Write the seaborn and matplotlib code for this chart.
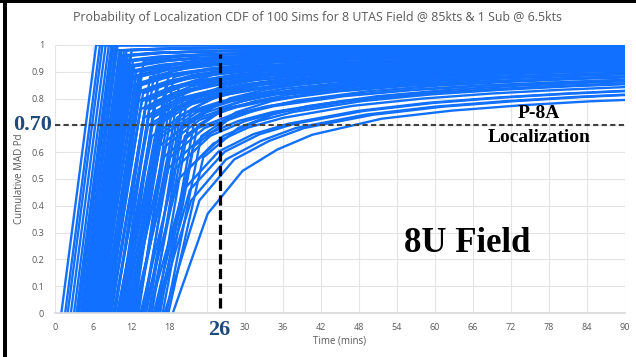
import numpy as np
import pandas as pd
import seaborn as sns
import matplotlib.pyplot as plt
from matplotlib import transforms
from matplotlib.patches import Rectangle

# Sample offsets (minutes after a sim's first detection opportunity)
offsets = [0, 5.5, 11, 16.5, 22, 33, 44, 55, 66, 77, 88, 99]

# Cumulative Pd profiles sampled at the offsets above
profiles = {
    "p00": [0, 1.00, 1.000, 1.000, 1.000, 1.000, 1.000, 1.000, 1.000, 1.000, 1.000, 1.000],
    "p02": [0, 0.98, 0.985, 0.988, 0.989, 0.991, 0.992, 0.993, 0.993, 0.994, 0.994, 0.994],
    "p04": [0, 0.96, 0.971, 0.975, 0.978, 0.982, 0.984, 0.985, 0.987, 0.987, 0.988, 0.989],
    "p06": [0, 0.94, 0.956, 0.963, 0.967, 0.973, 0.976, 0.978, 0.980, 0.981, 0.982, 0.983],
    "p08": [0, 0.92, 0.941, 0.951, 0.956, 0.964, 0.968, 0.971, 0.973, 0.975, 0.976, 0.978],
    "p10": [0, 0.90, 0.926, 0.938, 0.946, 0.955, 0.960, 0.964, 0.967, 0.969, 0.971, 0.972],
    "p12": [0, 0.88, 0.912, 0.926, 0.935, 0.945, 0.952, 0.956, 0.960, 0.962, 0.965, 0.966],
    "p15": [0, 0.85, 0.889, 0.907, 0.918, 0.932, 0.940, 0.946, 0.950, 0.953, 0.956, 0.958],
    "p18": [0, 0.82, 0.867, 0.889, 0.902, 0.918, 0.928, 0.935, 0.940, 0.944, 0.947, 0.950],
    "p21": [0, 0.79, 0.845, 0.870, 0.886, 0.904, 0.916, 0.924, 0.930, 0.934, 0.938, 0.941],
    "p24": [0, 0.76, 0.823, 0.852, 0.869, 0.891, 0.904, 0.913, 0.920, 0.925, 0.929, 0.933],
    "p27": [0, 0.73, 0.801, 0.833, 0.853, 0.877, 0.892, 0.902, 0.910, 0.915, 0.920, 0.924],
    "p30": [0, 0.70, 0.779, 0.815, 0.837, 0.864, 0.880, 0.891, 0.900, 0.906, 0.912, 0.916],
    "p34": [0, 0.66, 0.749, 0.790, 0.815, 0.845, 0.864, 0.877, 0.886, 0.894, 0.900, 0.905],
    "p38": [0, 0.62, 0.720, 0.766, 0.793, 0.827, 0.848, 0.862, 0.873, 0.881, 0.888, 0.894],
    "p42": [0, 0.58, 0.690, 0.741, 0.772, 0.809, 0.832, 0.848, 0.859, 0.869, 0.876, 0.882],
    "p46": [0, 0.54, 0.661, 0.716, 0.750, 0.791, 0.816, 0.833, 0.846, 0.856, 0.864, 0.871],
    "p50": [0, 0.50, 0.632, 0.692, 0.728, 0.773, 0.800, 0.819, 0.833, 0.844, 0.853, 0.860],
    "p54": [0, 0.46, 0.602, 0.667, 0.706, 0.754, 0.784, 0.804, 0.819, 0.831, 0.841, 0.849],
    "p58": [0, 0.42, 0.573, 0.642, 0.690, 0.740, 0.770, 0.790, 0.806, 0.818, 0.829, 0.838],
    "p63": [0, 0.37, 0.530, 0.610, 0.665, 0.725, 0.755, 0.775, 0.790, 0.800, 0.810, 0.820],
}

# Start time (mins) and profile of each of the 100 sims
sim_start = [
    1.0, 1.6, 2.0, 2.5, 3.0, 3.4, 3.6, 3.8, 4.1, 4.4,
    4.2, 4.7, 5.0, 5.4, 5.8, 6.6,
    4.6, 5.2, 5.6, 6.0, 6.4,
    5.0, 5.6, 5.9, 6.3, 6.8, 8.5,
    5.4, 6.0, 6.5, 7.0, 11.0,
    5.8, 6.4, 6.9, 7.3, 8.0, 10.2, 12.5,
    6.2, 6.8, 7.3, 7.7, 9.5, 13.2,
    6.6, 7.2, 7.7, 8.1, 10.8, 12.0, 14.1,
    7.0, 7.7, 8.4, 11.7, 14.8,
    7.5, 8.2, 8.9, 10.4, 12.2, 15.3,
    8.0, 8.7, 9.4, 13.0, 16.0,
    8.6, 9.3, 10.0, 11.2, 13.8, 16.6,
    9.2, 9.9, 10.6, 14.4, 17.0,
    9.8, 10.6, 11.4, 12.9, 15.0, 17.6,
    10.8, 11.8, 16.3,
    11.6, 12.6, 17.9,
    12.4, 13.5, 15.6,
    14.0,
    14.8, 15.8,
    16.0, 17.3,
    18.6,
]
sim_profile = (
    ["p00"] * 10 + ["p02"] * 6 + ["p04"] * 5 + ["p06"] * 6 + ["p08"] * 5
    + ["p10"] * 7 + ["p12"] * 6 + ["p15"] * 7 + ["p18"] * 5 + ["p21"] * 6
    + ["p24"] * 5 + ["p27"] * 6 + ["p30"] * 5 + ["p34"] * 6 + ["p38"] * 3
    + ["p42"] * 3 + ["p46"] * 3 + ["p50"] * 1 + ["p54"] * 2 + ["p58"] * 2
    + ["p63"] * 1
)

loc_threshold = 0.70
loc_time = 26

x_ticks = list(range(0, 91, 6))
y_ticks = [0, 0.1, 0.2, 0.3, 0.4, 0.5, 0.6, 0.7, 0.8, 0.9, 1.0]
y_tick_labels = ["0", "0.1", "0.2", "0.3", "0.4", "0.5", "0.6", "0.7", "0.8", "0.9", "1"]
# tick labels sitting under the threshold / time call-outs are left blank
x_tick_labels = [str(t) if t != 24 else "" for t in x_ticks]
y_tick_labels = [s if s != "0.7" else "" for s in y_tick_labels]

rows = []
for sim_id, (start, key) in enumerate(zip(sim_start, sim_profile)):
    for dt, val in zip(offsets, profiles[key]):
        rows.append((sim_id, start + dt, val))
df = pd.DataFrame(rows, columns=["sim", "time", "pd"])

sns.set_theme(style="white")
plt.rcParams["font.family"] = ["Open Sans", "DejaVu Sans"]

fig = plt.figure(figsize=(6.36, 3.57), dpi=100)
ax = fig.add_axes([0.0865, 0.1232, 0.8962, 0.7508])

sns.lineplot(data=df, x="time", y="pd", units="sim", estimator=None,
             color="#1170ff", lw=1.7, legend=False, ax=ax, zorder=2)

ax.set_xlim(0, 90)
ax.set_ylim(0, 1)
ax.set_xticks(x_ticks)
ax.set_xticklabels(x_tick_labels)
ax.set_yticks(y_ticks)
ax.set_yticklabels(y_tick_labels)
ax.grid(True, color="#e4e4e4", lw=0.8)
ax.set_axisbelow(True)
ax.tick_params(length=0, labelsize=6.5, colors="#595959")
ax.tick_params(axis="x", pad=7)
ax.tick_params(axis="y", pad=8)
for side in ["top", "right", "left"]:
    ax.spines[side].set_visible(False)
ax.spines["bottom"].set_color("#d9d9d9")
ax.set_xlabel("Time (mins)", fontsize=7, color="#595959", labelpad=3)
ax.set_ylabel("Cumulative MAD Pd", fontsize=7, color="#595959")
ax.yaxis.set_label_coords(-0.052, 0.5)

# Localization threshold and time markers
ax.axhline(loc_threshold, color="#404040", lw=1.5, dashes=(2.5, 1.6), zorder=4)
ax.axvline(loc_time, ymin=0.02, ymax=0.965, color="black", lw=2.3,
           dashes=(3.2, 1.4), zorder=5)

serif = ["Liberation Serif", "DejaVu Serif"]
blend_y = transforms.blended_transform_factory(ax.transAxes, ax.transData)
ax.text(-0.039, loc_threshold, f"{loc_threshold:.2f}", transform=blend_y,
        ha="center", va="center", fontsize=16, fontweight="bold",
        family=serif, color="#1f4a7c", clip_on=False)
blend_x = transforms.blended_transform_factory(ax.transData, ax.transAxes)
ax.text(loc_time, -0.064, f"{loc_time}", transform=blend_x,
        ha="center", va="center", fontsize=16, fontweight="bold",
        family=serif, color="#1f4a7c", clip_on=False, zorder=6,
        bbox=dict(facecolor="white", edgecolor="none", pad=2))

ax.text(76.4, 0.746, "P-8A", ha="center", va="center", fontsize=14,
        fontweight="bold", family=serif, color="black", zorder=6)
ax.text(76.4, 0.653, "Localization", ha="center", va="center", fontsize=14,
        fontweight="bold", family=serif, color="black", zorder=6)
ax.text(65.1, 0.261, "8U Field", ha="center", va="center", fontsize=25,
        fontweight="bold", family=serif, color="black", zorder=6)

fig.text(0.4985, 0.952,
         "Probability of Localization CDF of 100 Sims for 8 UTAS Field @ 85kts & 1 Sub @ 6.5kts",
         ha="center", va="center", fontsize=8.9, color="#595959")

# Slide frame edges
fig.add_artist(Rectangle((3 / 636, 0), 4 / 636, 1, transform=fig.transFigure,
                         color="black", lw=0))
fig.add_artist(Rectangle((0, 1 - 2.5 / 357), 1, 2.5 / 357, transform=fig.transFigure,
                         color="black", lw=0))

fig.savefig("out.png", dpi=100)
